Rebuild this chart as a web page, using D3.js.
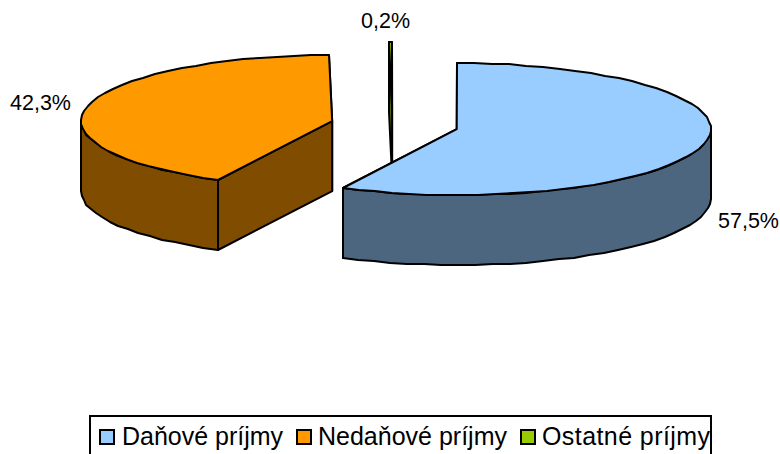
<!DOCTYPE html>
<html>
<head>
<meta charset="utf-8">
<script src="https://cdn.jsdelivr.net/npm/d3@7"></script>
<style>
  html, body { margin: 0; padding: 0; background: #fff; overflow: hidden; }
  svg { display: block; font-family: "Liberation Sans", Arial, sans-serif; }
</style>
</head>
<body>
<script>
const categories = ['Daňové príjmy', 'Nedaňové príjmy', 'Ostatné príjmy']
const shares = [57.5, 42.3, 0.2]
const shareLabels = ['57,5%', '42,3%', '0,2%']
const topColors = ['#99ccff', '#ff9900', '#99cc00']
const wallColors = ['#4d6680', '#804d00', '#4d6600']

const SIZE = { WIDTH: 780, HEIGHT: 454 }
const CENTER = { X: 394.5, Y: 125 }
const RADIUS = { LEFT: 251, RIGHT: 254, Y: 66 }
const EXPLODE = { X: 64, Y: 17.4 }
const DEPTH = 70

const pie = d3.pie().sort(null).value(d => d.share).startAngle(0).endAngle(2 * Math.PI)
const slices = pie(categories.map((name, i) => ({
  name,
  share: shares[i],
  label: shareLabels[i],
  top: topColors[i],
  wall: wallColors[i]
})))

// the source chart's ellipse is a touch narrower on its left side
const xScale = d3.scaleLinear().domain([-1, 0, 1]).range([-RADIUS.LEFT, 0, RADIUS.RIGHT])
const yScale = d3.scaleLinear().domain([-1, 1]).range([RADIUS.Y, -RADIUS.Y])

const svg = d3.select('body').append('svg')
  .attr('width', SIZE.WIDTH)
  .attr('height', SIZE.HEIGHT)

const line = d3.line()

// rim of a slice, sampled coarsely and rounded so it has the same stepped look
const rimPoints = (c, from, to) => {
  const n = Math.max(1, Math.ceil((to - from) / 0.07))
  return d3.range(n + 1).map(i => {
    const a = from + (to - from) * i / n
    return [Math.round(c.x + xScale(Math.sin(a))), Math.round(c.y + yScale(Math.cos(a)))]
  })
}

const sliceCenter = (d, i) => {
  const mid = (d.startAngle + d.endAngle) / 2
  return {
    x: CENTER.X + EXPLODE.X * Math.sin(mid) + (i === 2 ? -2 : 0),
    y: CENTER.Y - EXPLODE.Y * Math.cos(mid)
  }
}

const drawSlice = (d, i) => {
  const c = sliceCenter(d, i)
  const g = svg.append('g')
    .attr('stroke', '#000')
    .attr('stroke-width', 2)
    .attr('stroke-linejoin', 'round')
  const rim = rimPoints(c, d.startAngle, d.endAngle)
  const start = rim[0]
  const end = rim[rim.length - 1]
  const down = p => [p[0], p[1] + DEPTH]
  const hub = [c.x, c.y]

  // cut faces, the far one first so the near one covers it
  const walls = [[hub, end, down(end), down(hub)], [hub, start, down(start), down(hub)]]
  walls.forEach(w => g.append('path').attr('d', line(w) + 'Z').attr('fill', d.data.wall))

  // outer wall, only the part facing the viewer
  const from = Math.max(d.startAngle, Math.PI / 2)
  const to = Math.min(d.endAngle, 3 * Math.PI / 2)
  if (to > from) {
    const front = rimPoints(c, from, to)
    g.append('path')
      .attr('d', line(front.concat(front.slice().reverse().map(down))) + 'Z')
      .attr('fill', d.data.wall)
  }

  g.append('path')
    .attr('d', line([hub].concat(rim)) + 'Z')
    .attr('fill', d.data.top)
}

// back to front: the thin slice sits behind the other two
;[2, 1, 0].forEach(i => drawSlice(slices[i], i))

const labelPos = [[718, 228], [10, 110], [361, 28]]
svg.append('g')
  .selectAll('text')
  .data(slices)
  .enter()
  .append('text')
  .attr('x', (d, i) => labelPos[i][0])
  .attr('y', (d, i) => labelPos[i][1])
  .attr('font-size', 21.5)
  .attr('fill', '#000')
  .text(d => d.data.label)

const legend = svg.append('g')
legend.append('rect')
  .attr('x', 90)
  .attr('y', 416)
  .attr('width', 621)
  .attr('height', 50)
  .attr('fill', '#fff')
  .attr('stroke', '#000')
  .attr('stroke-width', 2)

const legendX = [100, 297, 521]
const legendTextWidth = [161, 189, 168]
const items = legend.selectAll('g')
  .data(slices)
  .enter()
  .append('g')
  .attr('transform', (d, i) => `translate(${legendX[i]},430)`)
items.append('rect')
  .attr('width', 14)
  .attr('height', 14)
  .attr('fill', d => d.data.top)
  .attr('stroke', '#000')
  .attr('stroke-width', 2)
items.append('text')
  .attr('x', (d, i) => i === 0 ? 22 : 21)
  .attr('y', 15)
  .attr('font-size', 25)
  .attr('fill', '#000')
  .attr('textLength', (d, i) => legendTextWidth[i])
  .text(d => d.data.name)
</script>
</body>
</html>
